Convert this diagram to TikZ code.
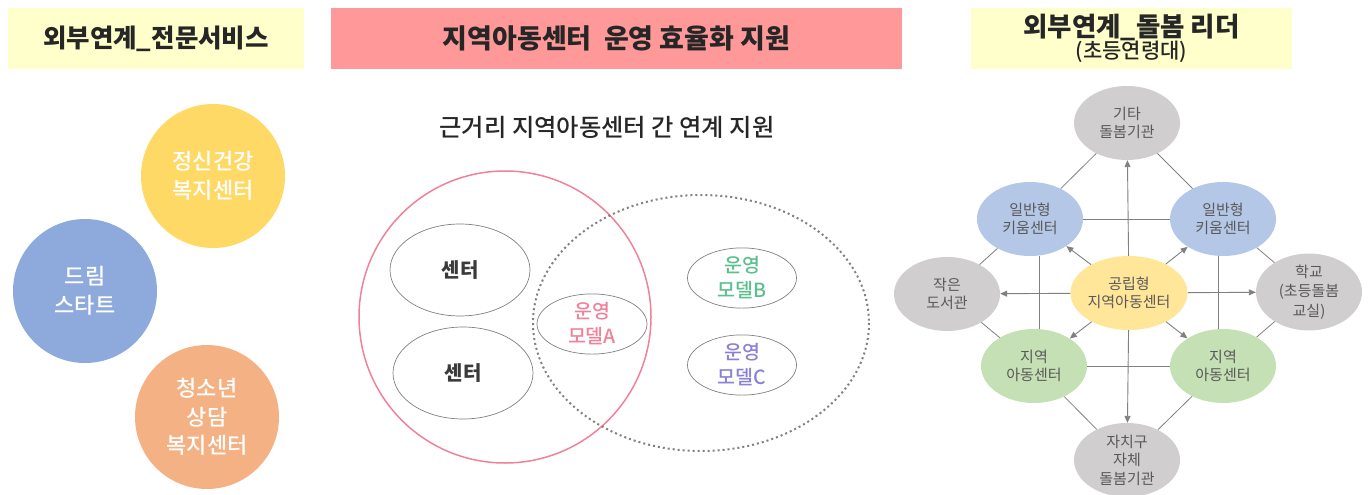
\documentclass[tikz,border=0pt]{standalone}
\usepackage{fontspec}
\setmainfont{Noto Sans CJK KR}
\newfontfamily\krmed{Noto Sans CJK KR Medium}
\usetikzlibrary{shapes.geometric,arrows.meta}
\definecolor{hdryellow}{HTML}{FFFFCC}
\definecolor{hdrpink}{HTML}{FF9999}
\definecolor{cyellow}{HTML}{FFD966}
\definecolor{cblue}{HTML}{8EA9DB}
\definecolor{corange}{HTML}{F4B183}
\definecolor{txtdark}{HTML}{262626}
\definecolor{redring}{HTML}{F0819A}
\definecolor{modelA}{HTML}{F0819A}
\definecolor{modelB}{HTML}{5BBF8E}
\definecolor{modelC}{HTML}{8A80D4}
\definecolor{ngray}{HTML}{D0CECE}
\definecolor{nblue}{HTML}{B4C7E7}
\definecolor{nyellow}{HTML}{FFE699}
\definecolor{ngreen}{HTML}{C5E0B4}
\definecolor{ntext}{HTML}{595959}
\definecolor{lgray}{HTML}{808080}
\definecolor{ctext}{HTML}{3A3A3A}
\begin{document}
\begin{tikzpicture}[x=1pt,y=-1pt,
  hdr/.style={rectangle, inner sep=0, minimum height=61, text=txtdark, align=center},
  bigcirc/.style={circle, minimum size=144, inner sep=0, text=white, align=center,
     font=\krmed\fontsize{22}{28.5}\selectfont},
  venn/.style={ellipse, draw=lgray, line width=0.7, inner sep=0, align=center},
  netnode/.style={ellipse, minimum width=106, minimum height=74, inner sep=0,
     text=ntext, align=center, font=\fontsize{15}{18.5}\selectfont},
  conn/.style={draw=lgray, line width=0.8},
  arr/.style={draw=lgray, line width=0.9, -{Triangle[length=7,width=6]}, color=lgray}
]
\useasboundingbox (0,0) rectangle (1370,495);

% ---- headers
\node[hdr, fill=hdryellow, minimum width=296] (h1) at (156,38.5)
  {\fontsize{25.5}{28}\selectfont\bfseries 외부연계\_전문서비스};
\node[hdr, fill=hdrpink, minimum width=571] (h2) at (616.5,38.5)
  {\fontsize{27}{30}\selectfont\bfseries 지역아동센터\ \ 운영 효율화 지원};
\node[hdr, fill=hdryellow, minimum width=321] (h3) at (1131.5,38.5)
  {\fontsize{26.5}{28}\selectfont\bfseries 외부연계\_돌봄 리더\\[-0.5pt]
   \krmed\fontsize{21}{24}\selectfont (초등연령대)};

% ---- left circles
\node[bigcirc, fill=cyellow] (c1) at (213,176) {정신건강\\복지센터};
\node[bigcirc, fill=cblue] (c2) at (85,291) {드림\\스타트};
\node[bigcirc, fill=corange] (c3) at (207,417) {청소년\\상담\\복지센터};

% ---- middle
\node[text=txtdark, font=\krmed\fontsize{24.3}{28}\selectfont] (sub) at (607,127)
  {근거리 지역아동센터 간 연계 지원};
\draw[redring, line width=1.5] (505,317) circle[radius=146];
\draw[lgray, line width=2, dash pattern=on 2pt off 3pt]
  (701,323) ellipse[x radius=168, y radius=128];
\node[venn, minimum width=140, minimum height=92, text=ctext,
  font=\fontsize{20}{24}\selectfont\bfseries] (s1) at (460,270) {센터};
\node[venn, minimum width=140, minimum height=92, text=ctext,
  font=\fontsize{20}{24}\selectfont\bfseries] (s2) at (463,373) {센터};
\node[venn, minimum width=110, minimum height=54, text=modelA,
  font=\krmed\fontsize{19.5}{25}\selectfont] (ma) at (592,324) {운영\\모델A};
\node[venn, minimum width=109, minimum height=56, text=modelB,
  font=\krmed\fontsize{19.5}{25}\selectfont] (mb) at (742,278) {운영\\모델B};
\node[venn, minimum width=109, minimum height=56, text=modelC,
  font=\krmed\fontsize{19.5}{25}\selectfont] (mc) at (742,365) {운영\\모델C};

% ---- network
\node[netnode, fill=ngray] (gita) at (1127,123) {기타\\돌봄기관};
\node[netnode, fill=nblue] (il1) at (1030,219) {일반형\\키움센터};
\node[netnode, fill=nblue] (il2) at (1223,219) {일반형\\키움센터};
\node[netnode, fill=ngray] (jak) at (947,294) {작은\\도서관};
\node[netnode, fill=nyellow] (gong) at (1129,293) {공립형\\지역아동센터};
\node[netnode, fill=ngray, font=\fontsize{15}{19.5}\selectfont] (hak) at (1309,292) {학교\\(초등돌봄\\교실)};
\node[netnode, fill=ngreen] (ji1) at (1034,366) {지역\\아동센터};
\node[netnode, fill=ngreen] (ji2) at (1223,366) {지역\\아동센터};
\node[netnode, fill=ngray] (jachi) at (1127,460) {자치구\\자체\\돌봄기관};

\draw[conn] (gita) -- (il1);
\draw[conn] (gita) -- (il2);
\draw[conn] (il1) -- (jak);
\draw[conn] (il2) -- (hak);
\draw[conn] (jak) -- (ji1);
\draw[conn] (hak) -- (ji2);
\draw[conn] (ji1) -- (jachi);
\draw[conn] (ji2) -- (jachi);
\draw[conn] (il1) -- (il2);
\draw[conn] (ji1) -- (ji2);
\draw[conn] ([xshift=9]il1.south) -- ([xshift=5]ji1.north);
\draw[conn] ([xshift=-5]il2.south) -- ([xshift=-5]ji2.north);

\draw[arr] (gong) -- (gita);
\draw[arr] (gong) -- (jachi);
\draw[arr] (gong) -- (jak);
\draw[arr] (gong) -- (hak);
\draw[arr] (gong) -- (il1);
\draw[arr] (gong) -- (il2);
\draw[arr] (gong) -- (ji1);
\draw[arr] (gong) -- (ji2);
\end{tikzpicture}
\end{document}
